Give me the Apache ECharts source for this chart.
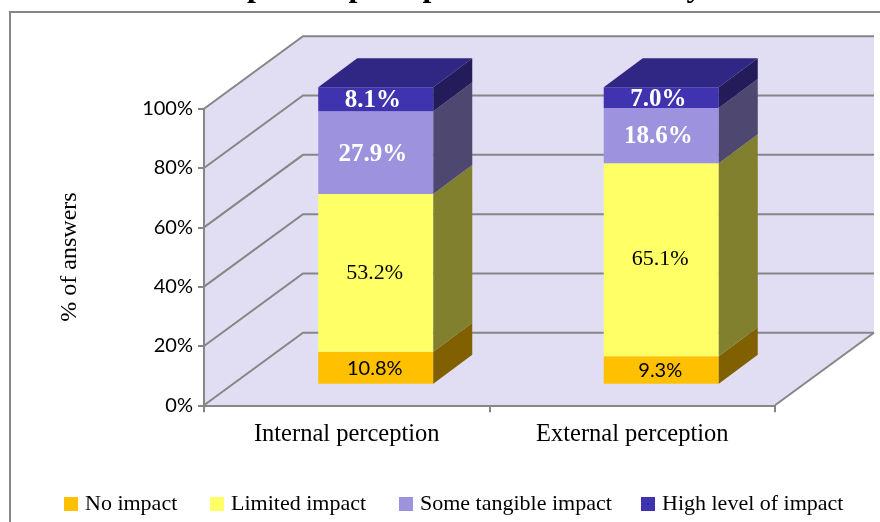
<!DOCTYPE html>
<html>
<head>
<meta charset="utf-8">
<style>html,body{margin:0;padding:0;background:#fff}#c{width:880px;height:522px}</style>
<script src="https://cdn.jsdelivr.net/npm/echarts@6/dist/echarts.min.js"></script>
</head>
<body>
<div id="c"></div>
<script>
var categories = ['Internal perception', 'External perception'];
var noImpact = [10.8, 9.3];
var limitedImpact = [53.2, 65.1];
var someImpact = [27.9, 18.6];
var highImpact = [8.1, 7.0];
var yTicks = [0, 20, 40, 60, 80, 100];
var seriesNames = ['No impact', 'Limited impact', 'Some tangible impact', 'High level of impact'];
var seriesValues = [noImpact, limitedImpact, someImpact, highImpact];
var faceColors = ['#FFC000', '#FFFF66', '#9C92DE', '#4033B0'];
var sideColors = ['#806000', '#80802F', '#4E4870', '#231B5A'];
var topColor = '#302684';
var labelStyles = [
  {fontFamily: 'Lato', fontSize: 20, fontWeight: 'normal', fill: '#000', dx: -1, dy: 1},
  {fontFamily: 'Liberation Serif', fontSize: 22, fontWeight: 'normal', fill: '#000', dx: -1, dy: 0},
  {fontFamily: 'Liberation Serif', fontSize: 25, fontWeight: 'bold', fill: '#fff', dx: -3, dy: 1.5},
  {fontFamily: 'Liberation Serif', fontSize: 25, fontWeight: 'bold', fill: '#fff', dx: -3, dy: 1.5}
];
var GREY = '#868686';
var WALL = '#E1DEF3';
var WALL_DX = 99, WALL_DY = 72.5;
var BAR_DX = 39, BAR_DY = 29;
var BAR_SHIFT_X = 29, BAR_SHIFT_Y = 21.5;
var BAR_RATIO = 0.403;

function wallItem(params, api) {
  var g = params.coordSys;
  var x0 = g.x, x1 = g.x + g.width;
  var y = api.coord([0, api.value(0)])[1];
  var children = [];
  if (params.dataIndex === 0) {
    var yTop = api.coord([0, 100])[1];
    var fill = {fill: WALL};
    children.push({type: 'polygon', shape: {points: [
      [x0, y], [x0, yTop], [x0 + WALL_DX, yTop - WALL_DY],
      [x1 + WALL_DX, yTop - WALL_DY], [x1 + WALL_DX, y - WALL_DY], [x1, y]
    ]}, style: fill});
    children.push({type: 'line', shape: {x1: x1, y1: y, x2: x1 + WALL_DX, y2: y - WALL_DY},
      style: {stroke: GREY, lineWidth: 2, fill: null}});
  }
  children.push({type: 'polyline', shape: {points: [[x0, y], [x0 + WALL_DX, y - WALL_DY], [x1 + WALL_DX, y - WALL_DY]]},
    style: {stroke: GREY, lineWidth: 2, fill: null}});
  return {type: 'group', children: children};
}

function barRenderer(si) {
  return function (params, api) {
    var cat = api.value(0), v = api.value(1);
    var base = 0;
    for (var i = 0; i < si; i++) base += seriesValues[i][cat];
    var bw = api.size([1, 0])[0] * BAR_RATIO;
    var c0 = api.coord([cat, base]), c1 = api.coord([cat, base + v]);
    var xl = c0[0] + BAR_SHIFT_X - bw / 2, xr = xl + bw;
    var yb = c0[1] - BAR_SHIFT_Y, yt = c1[1] - BAR_SHIFT_Y;
    var children = [
      {type: 'polygon', shape: {points: [[xl, yb], [xr, yb], [xr, yt], [xl, yt]]}, style: {fill: faceColors[si]}},
      {type: 'polygon', shape: {points: [[xr, yb], [xr + BAR_DX, yb - BAR_DY], [xr + BAR_DX, yt - BAR_DY], [xr, yt]]}, style: {fill: sideColors[si]}}
    ];
    if (si === seriesValues.length - 1) {
      children.push({type: 'polygon', shape: {points: [[xl, yt], [xr, yt], [xr + BAR_DX, yt - BAR_DY], [xl + BAR_DX, yt - BAR_DY]]}, style: {fill: topColor}});
    }
    var ls = labelStyles[si];
    children.push({type: 'text', z2: 10, style: {
      text: v.toFixed(1) + '%', x: (xl + xr) / 2 + ls.dx, y: (yb + yt) / 2 + ls.dy,
      align: 'center', verticalAlign: 'middle',
      fontFamily: ls.fontFamily, fontSize: ls.fontSize, fontWeight: ls.fontWeight, fill: ls.fill
    }});
    return {type: 'group', children: children};
  };
}

var series = [{
  type: 'custom', z: 1, silent: true, renderItem: wallItem,
  data: yTicks.map(function (t) { return [t]; }), encode: {y: 0}
}];
seriesNames.forEach(function (name, si) {
  series.push({
    name: name, type: 'custom', z: 4, renderItem: barRenderer(si),
    itemStyle: {color: faceColors[si]},
    data: seriesValues[si].map(function (v, i) { return [i, v]; }),
    encode: {x: 0, y: 1}
  });
});

var legendLeft = [64, 210, 399, 641];
var chart = echarts.init(document.getElementById('c'), null, {renderer: 'canvas'});
chart.setOption({
  animation: false,
  backgroundColor: '#fff',
  title: {
    text: 'Impact of perception in the industry', left: 203, top: -33,
    textStyle: {fontFamily: 'Liberation Serif', fontSize: 32, fontWeight: 'bold', color: '#000'}
  },
  graphic: [{type: 'rect', z: -1, shape: {x: 10, y: 12, width: 900, height: 560},
    style: {fill: '#fff', stroke: GREY, lineWidth: 2}}],
  legend: seriesNames.map(function (n, i) {
    return {
      data: [n], left: legendLeft[i], top: 493, icon: 'rect', itemWidth: 14, itemHeight: 14, itemGap: 0,
      selectedMode: false, padding: 0,
      textStyle: {fontFamily: 'Liberation Serif', fontSize: 22, color: '#000', padding: [0, 0, 0, 2]}
    };
  }),
  grid: {left: 204, top: 108.7, width: 571, height: 296.6},
  xAxis: {
    type: 'category', data: categories,
    z: 3,
    axisLine: {show: true, lineStyle: {color: GREY, width: 2}},
    axisTick: {show: true, length: 7, alignWithLabel: false, lineStyle: {color: GREY, width: 2}},
    axisLabel: {fontFamily: 'Liberation Serif', fontSize: 24.5, color: '#000', margin: 17}
  },
  yAxis: {
    type: 'value', min: 0, max: 100, interval: 20,
    z: 3,
    name: '% of answers', nameLocation: 'middle', nameGap: 122, nameRotate: 90,
    nameTextStyle: {fontFamily: 'Liberation Serif', fontSize: 24, color: '#000'},
    axisLine: {show: true, lineStyle: {color: GREY, width: 2}},
    axisTick: {show: true, length: 6, lineStyle: {color: GREY, width: 2}},
    axisLabel: {fontFamily: 'Lato', fontSize: 20, color: '#000', margin: 11, formatter: '{value}%', padding: [4, 0, 0, 0]},
    splitLine: {show: false}
  },
  series: series
});
</script>
</body>
</html>
